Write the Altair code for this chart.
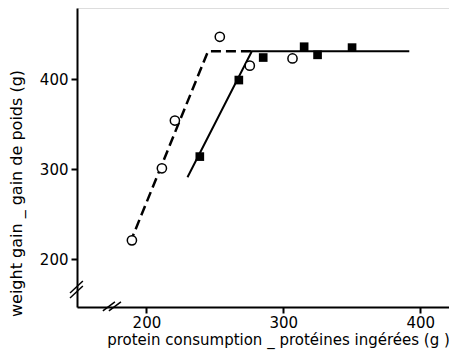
import altair as alt
import pandas as pd

# open circles (dashed-line series)
circ_x = [189.4, 211.3, 220.8, 253.6, 275.5, 306.7]
circ_y = [221, 301, 354, 447, 415, 423]
# filled squares (solid-line series)
sq_x = [239.0, 267.5, 285.3, 315.2, 325.0, 350.2]
sq_y = [314, 399, 424, 436, 427, 435]
# fitted broken lines
dash_x = [188, 245, 277]
dash_y = [218, 431, 431]
solid_x = [230, 277, 392]
solid_y = [291, 431, 431]
# axis-break marks (data space)
brk_x = [144.2, 144.2, 168.2, 172.6]
brk_x2 = [153.6, 153.6, 177.0, 181.4]
brk_y = [162.6, 157.0, 142.6, 142.6]
brk_y2 = [175.9, 170.3, 152.6, 152.6]

FONT = "DejaVu Sans"
xs = alt.Scale(domain=[149.3, 421], nice=False, zero=False)
ys = alt.Scale(domain=[147, 479], nice=False, zero=False)

xaxis = alt.Axis(values=[200, 300, 400], grid=False, domainColor="black", domainWidth=2,
                 tickColor="black", tickWidth=2, tickSize=6, labelFont=FONT, labelFontSize=15,
                 labelColor="black", labelPadding=2,
                 title="protein consumption _ protéines ingérées  (g )", titleFont=FONT,
                 titleFontSize=15, titleFontWeight="normal", titleColor="black",
                 titleX=201, titleY=37, titleBaseline="alphabetic", titleAlign="center")
yaxis = alt.Axis(values=[200, 300, 400], grid=False, domainColor="black", domainWidth=2,
                 tickColor="black", tickWidth=2, tickSize=6, labelFont=FONT, labelFontSize=15,
                 labelColor="black", labelPadding=3,
                 title="weight gain _ gain de poids  (g)", titleFont=FONT,
                 titleFontSize=16, titleFontWeight="normal", titleColor="black",
                 titleX=-56, titleY=185, titleBaseline="alphabetic", titleAlign="center",
                 titleAngle=270)

dash_df = pd.DataFrame({"x": dash_x, "y": dash_y})
solid_df = pd.DataFrame({"x": solid_x, "y": solid_y})
circ_df = pd.DataFrame({"x": circ_x, "y": circ_y})
sq_df = pd.DataFrame({"x": sq_x, "y": sq_y})
brk_df = pd.DataFrame({"x": brk_x, "x2": brk_x2, "y": brk_y, "y2": brk_y2})

dash = alt.Chart(dash_df).mark_line(color="black", strokeWidth=2.5, strokeDash=[10, 5]).encode(
    x=alt.X("x:Q", scale=xs, axis=xaxis), y=alt.Y("y:Q", scale=ys, axis=yaxis))
solid = alt.Chart(solid_df).mark_line(color="black", strokeWidth=2).encode(
    x=alt.X("x:Q", scale=xs), y=alt.Y("y:Q", scale=ys))
circ = alt.Chart(circ_df).mark_point(shape="circle", filled=True, fill="white", stroke="black",
                                     strokeWidth=1.5, size=85, opacity=1).encode(
    x=alt.X("x:Q", scale=xs), y=alt.Y("y:Q", scale=ys))
sq = alt.Chart(sq_df).mark_point(shape="square", filled=True, color="black", size=75, opacity=1).encode(
    x=alt.X("x:Q", scale=xs), y=alt.Y("y:Q", scale=ys))
brk = alt.Chart(brk_df).mark_rule(color="black", strokeWidth=1.5, clip=False).encode(
    x=alt.X("x:Q", scale=xs), x2="x2:Q", y=alt.Y("y:Q", scale=ys), y2="y2:Q")

chart = alt.layer(dash, solid, circ, sq, brk).properties(
    width=372, height=299,
    autosize=alt.AutoSizeParams(type="none"),
    padding={"left": 69, "top": 0, "right": 0, "bottom": 47},
).configure_view(stroke=None).configure(background="white")

chart.save("out.html", embed_options={"renderer": "svg", "actions": False})
